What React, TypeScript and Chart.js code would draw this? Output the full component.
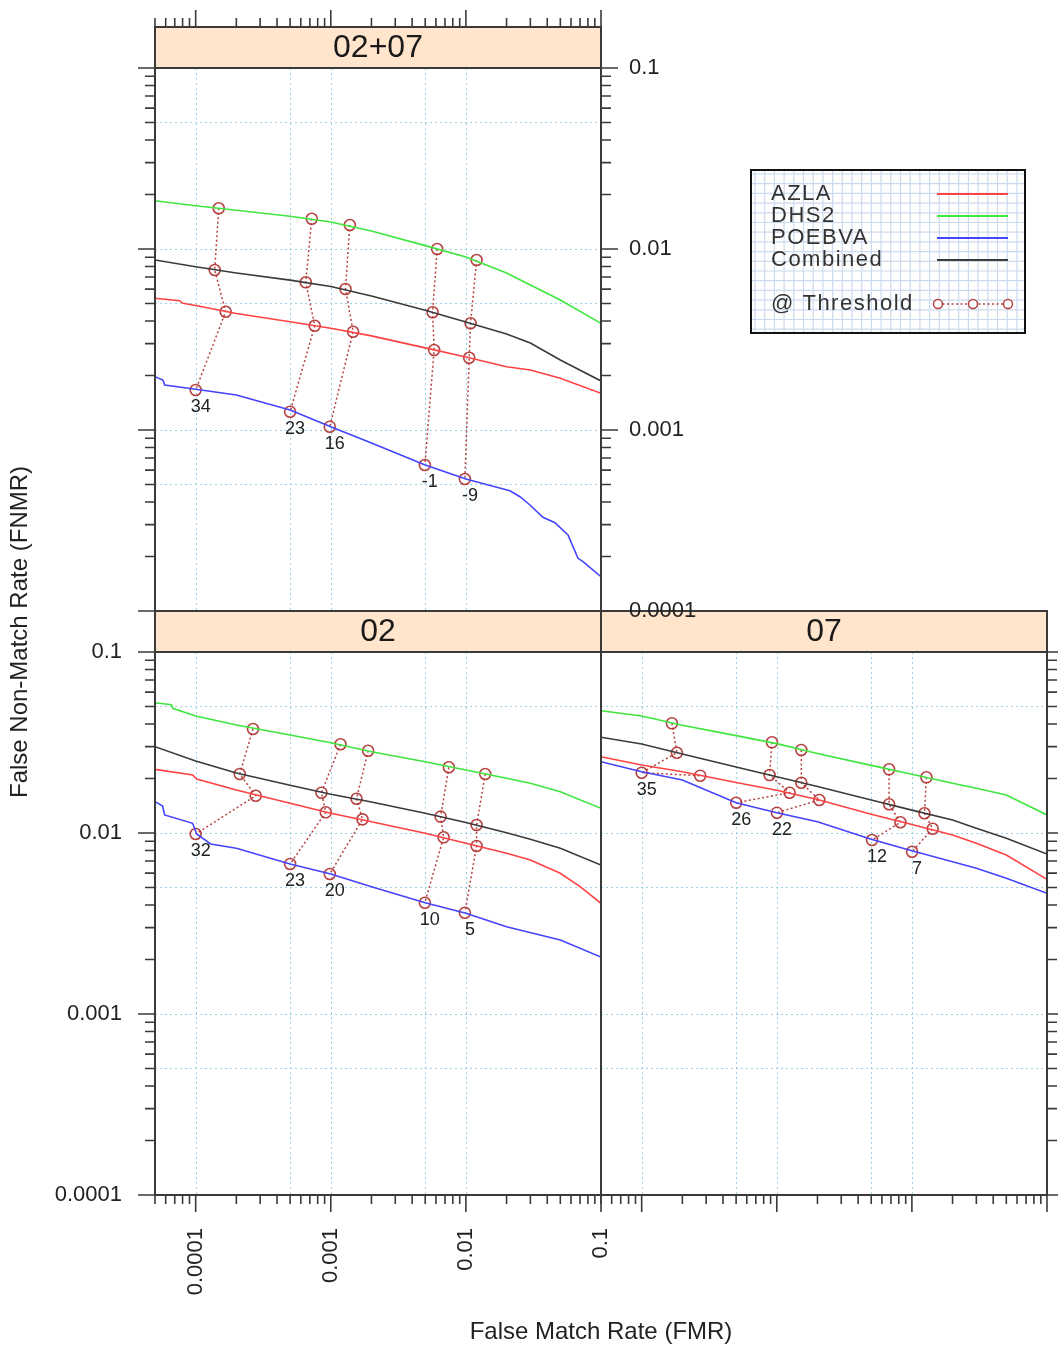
import React, { useEffect, useRef } from "react";
import { Chart, registerables } from "chart.js";

Chart.register(...registerables);

const PAGE_W = 1058;
const PAGE_H = 1348;
const FONT = '"Liberation Sans", Arial, Helvetica, sans-serif';

// ---------- axes / labels ----------
const fmrMin = 5e-5;
const fmrMax = 0.1;
const fnmrMin = 1e-4;
const fnmrMax = 0.1;
const decadeTicks = [1e-4, 1e-3, 1e-2, 1e-1];
const decadeLabels = ["0.0001", "0.001", "0.01", "0.1"];
const fmrGridLines = [1e-4, 5e-4, 1e-3, 5e-3, 1e-2];
const fnmrGridLines = [5e-2, 1e-2, 5e-3, 1e-3, 5e-4];
const xTitle = "False Match Rate (FMR)";
const yTitle = "False Non-Match Rate (FNMR)";
const seriesNames = ["AZLA", "DHS2", "POEBVA", "Combined"];
const seriesColors = ["#ff4242", "#3ee63e", "#4444ff", "#3a3a3a"];
const thresholdName = "@ Threshold";
const thresholdColor = "rgba(175,45,45,0.9)";

type Pt = [number, number];

// common FMR sample points
const fmrGrid = [5e-5, 1e-4, 2e-4, 5e-4, 1e-3, 2e-3, 5e-3, 1e-2, 2e-2, 3e-2, 5e-2, 1e-1];

// ---------- panel "02+07" ----------
const p1Title = "02+07";
const p1AzlaX = [5e-5, 7.61e-5, 8.05e-5, 1e-4, 2e-4, 5e-4, 1e-3, 2e-3, 5e-3, 1e-2, 2e-2, 3e-2, 5e-2, 1e-1];
const p1AzlaY = [0.005342, 0.005182, 0.005012, 0.004873, 0.004406, 0.003961, 0.003651, 0.003311, 0.002842, 0.002531, 0.002237, 0.002145, 0.00193, 0.001595];
const p1Dhs2Y = [0.01849, 0.01735, 0.01636, 0.01518, 0.01411, 0.01258, 0.01044, 0.009033, 0.007368, 0.006327, 0.005228, 0.003886];
const p1PoebvaX = [5e-5, 5.72e-5, 5.89e-5, 1e-4, 2e-4, 5e-4, 1e-3, 2e-3, 5e-3, 1e-2, 0.0127, 0.02118, 0.02512, 0.02979, 0.03718, 0.04563, 0.05696, 0.06757, 0.07356, 0.1];
const p1PoebvaY = [0.00197, 0.001889, 0.001773, 0.001679, 0.001561, 0.00129, 0.001043, 0.0008479, 0.0006405, 0.0005363, 0.0005116, 0.000462, 0.0004281, 0.0003852, 0.0003293, 0.0003074, 0.000263, 0.0001955, 0.0001873, 0.0001547];
const p1CombinedY = [0.008694, 0.007973, 0.007368, 0.006733, 0.006207, 0.005499, 0.004591, 0.003951, 0.003391, 0.003025, 0.002436, 0.001865];
const p1ThrLabels = ["34", "23", "16", "-1", "-9"];
const p1ThrAzla: Pt[] = [[1.668e-4, 0.004503], [7.61e-4, 0.003769], [1.463e-3, 0.003492], [5.82e-3, 0.002767], [1.058e-2, 0.002508]];
const p1ThrDhs2: Pt[] = [[1.481e-4, 0.01679], [7.23e-4, 0.0147], [1.383e-3, 0.01357], [6.13e-3, 0.01], [1.2e-2, 0.008694]];
const p1ThrPoebva: Pt[] = [[1e-4, 0.001663], [5e-4, 0.001262], [9.83e-4, 0.001043], [4.97e-3, 0.0006405], [9.83e-3, 0.0005363]];
const p1ThrCombined: Pt[] = [[1.383e-4, 0.007656], [6.53e-4, 0.006546], [1.285e-3, 0.006012], [5.67e-3, 0.00447], [1.083e-2, 0.003886]];

// ---------- panel "02" ----------
const p2Title = "02";
const p2AzlaX = [5e-5, 9.5e-5, 1.017e-4, 2e-4, 5e-4, 1e-3, 2e-3, 5e-3, 1e-2, 2e-2, 3e-2, 5e-2, 7e-2, 1e-1];
const p2AzlaY = [0.02248, 0.02091, 0.01988, 0.0173, 0.01459, 0.01285, 0.01155, 0.009962, 0.008772, 0.007722, 0.007094, 0.005989, 0.00505, 0.004089];
const p2Dhs2X = [5e-5, 6.61e-5, 6.76e-5, 1e-4, 2e-4, 5e-4, 1e-3, 2e-3, 5e-3, 1e-2, 2e-2, 3e-2, 5e-2, 1e-1];
const p2Dhs2Y = [0.05247, 0.05116, 0.04887, 0.0443, 0.03951, 0.03478, 0.03154, 0.02812, 0.02476, 0.02229, 0.02005, 0.01882, 0.01691, 0.01369];
const p2PoebvaX = [5e-5, 5.69e-5, 5.89e-5, 9.5e-5, 1.017e-4, 1.291e-4, 2e-4, 5e-4, 1e-3, 2e-3, 5e-3, 1e-2, 2e-2, 5e-2, 1e-1];
const p2PoebvaY = [0.01489, 0.0141, 0.01258, 0.01131, 0.009874, 0.008694, 0.008231, 0.006741, 0.005937, 0.00505, 0.00412, 0.0036, 0.003036, 0.002563, 0.002065];
const p2CombinedY = [0.02998, 0.02498, 0.02145, 0.01834, 0.01636, 0.01483, 0.01285, 0.01143, 0.01004, 0.009231, 0.008231, 0.006654];
const p2ThrLabels = ["32", "23", "20", "10", "5"];
const p2ThrAzla: Pt[] = [[2.782e-4, 0.01607], [9.18e-4, 0.01301], [1.717e-3, 0.0119], [6.84e-3, 0.009467], [1.2e-2, 0.008479]];
const p2ThrDhs2: Pt[] = [[2.657e-4, 0.03756], [1.18e-3, 0.03091], [1.889e-3, 0.02849], [7.48e-3, 0.02307], [1.39e-2, 0.02118]];
const p2ThrPoebva: Pt[] = [[1e-4, 0.009874], [5e-4, 0.006741], [9.83e-4, 0.005937], [4.97e-3, 0.00412], [9.83e-3, 0.003628]];
const p2ThrCombined: Pt[] = [[2.118e-4, 0.02118], [8.53e-4, 0.0167], [1.551e-3, 0.01547], [6.5e-3, 0.01231], [1.2e-2, 0.01107]];

// ---------- panel "07" ----------
const p3Title = "07";
const p3AzlaY = [0.0264, 0.02375, 0.02182, 0.01901, 0.01724, 0.01532, 0.01269, 0.01113, 0.00975, 0.008772, 0.007558, 0.005548];
const p3Dhs2Y = [0.04739, 0.0443, 0.03936, 0.03452, 0.03118, 0.02749, 0.02363, 0.02113, 0.01882, 0.01766, 0.01622, 0.01258];
const p3PoebvaY = [0.02476, 0.02182, 0.01963, 0.0147, 0.01295, 0.01155, 0.009231, 0.007982, 0.00694, 0.006383, 0.005618, 0.004643];
const p3CombinedY = [0.03379, 0.03102, 0.02732, 0.02316, 0.02046, 0.01805, 0.01522, 0.01338, 0.0118, 0.01062, 0.009348, 0.007656];
const p3ThrLabels = ["35", "26", "22", "12", "7"];
const p3ThrAzla: Pt[] = [[2.712e-4, 0.02073], [1.244e-3, 0.0167], [2.064e-3, 0.01522], [8.22e-3, 0.01146], [1.426e-2, 0.01056]];
const p3ThrDhs2: Pt[] = [[1.674e-4, 0.04037], [9.21e-4, 0.0317], [1.519e-3, 0.02875], [6.78e-3, 0.02248], [1.281e-2, 0.02031]];
const p3ThrPoebva: Pt[] = [[1e-4, 0.02153], [5.01e-4, 0.0147], [1.003e-3, 0.01295], [5.07e-3, 0.009149], [1.003e-2, 0.007881]];
const p3ThrCombined: Pt[] = [[1.823e-4, 0.02777], [8.84e-4, 0.02091], [1.519e-3, 0.01896], [6.78e-3, 0.01441], [1.238e-2, 0.01285]];

// ---------- layout ----------
interface Rect { left: number; top: number; right: number; bottom: number; }
interface PanelSpec {
  title: string;
  rect: Rect;
  curves: { x: number[]; y: number[] }[];
  thr: Pt[][];
  thrLabels: string[];
  xSide: "top" | "bottom";
  xLabels: boolean;
  yLeft: boolean;
  yLeftLabels: boolean;
  yRight: boolean;
  yRightLabels: boolean;
  overlay: boolean;
  z: number;
}

const STRIP_H = 41;

const panels: PanelSpec[] = [
  {
    title: p1Title,
    rect: { left: 155, top: 68, right: 601, bottom: 611 },
    curves: [
      { x: p1AzlaX, y: p1AzlaY },
      { x: fmrGrid, y: p1Dhs2Y },
      { x: p1PoebvaX, y: p1PoebvaY },
      { x: fmrGrid, y: p1CombinedY },
    ],
    thr: [p1ThrAzla, p1ThrDhs2, p1ThrPoebva, p1ThrCombined],
    thrLabels: p1ThrLabels,
    xSide: "top",
    xLabels: false,
    yLeft: true,
    yLeftLabels: false,
    yRight: true,
    yRightLabels: true,
    overlay: true,
    z: 3,
  },
  {
    title: p2Title,
    rect: { left: 155, top: 652, right: 601, bottom: 1195 },
    curves: [
      { x: p2AzlaX, y: p2AzlaY },
      { x: p2Dhs2X, y: p2Dhs2Y },
      { x: p2PoebvaX, y: p2PoebvaY },
      { x: fmrGrid, y: p2CombinedY },
    ],
    thr: [p2ThrAzla, p2ThrDhs2, p2ThrPoebva, p2ThrCombined],
    thrLabels: p2ThrLabels,
    xSide: "bottom",
    xLabels: true,
    yLeft: true,
    yLeftLabels: true,
    yRight: false,
    yRightLabels: false,
    overlay: false,
    z: 1,
  },
  {
    title: p3Title,
    rect: { left: 601, top: 652, right: 1047, bottom: 1195 },
    curves: [
      { x: fmrGrid, y: p3AzlaY },
      { x: fmrGrid, y: p3Dhs2Y },
      { x: fmrGrid, y: p3PoebvaY },
      { x: fmrGrid, y: p3CombinedY },
    ],
    thr: [p3ThrAzla, p3ThrDhs2, p3ThrPoebva, p3ThrCombined],
    thrLabels: p3ThrLabels,
    xSide: "bottom",
    xLabels: false,
    yLeft: false,
    yLeftLabels: false,
    yRight: true,
    yRightLabels: false,
    overlay: false,
    z: 2,
  },
];

function minorValues(min: number, max: number): number[] {
  const out: number[] = [];
  for (let e = -6; e <= 0; e++) {
    for (let m = 2; m <= 9; m++) {
      const v = m * Math.pow(10, e);
      if (v >= min * 0.999 && v <= max * 1.001) out.push(v);
    }
  }
  return out;
}

function buildDatasets(spec: PanelSpec): any[] {
  const ds: any[] = [];
  spec.curves.forEach((c, i) => {
    ds.push({
      label: seriesNames[i],
      data: c.x.map((x, k) => ({ x, y: c.y[k] })),
      borderColor: seriesColors[i],
      borderWidth: 1.6,
      pointRadius: 0,
      tension: 0,
      fill: false,
    });
  });
  spec.thrLabels.forEach((lab, t) => {
    const pts = spec.thr.map((arr) => ({ x: arr[t][0], y: arr[t][1] }));
    pts.sort((a, b) => b.y - a.y);
    ds.push({
      label: "thr " + lab,
      data: pts,
      borderColor: thresholdColor,
      borderWidth: 1.5,
      borderDash: [2, 2.5],
      pointRadius: 5.5,
      pointBorderWidth: 1.6,
      pointBorderColor: thresholdColor,
      pointBackgroundColor: "rgba(0,0,0,0)",
      pointStyle: "circle",
      tension: 0,
      fill: false,
    });
  });
  return ds;
}

function drawOverlay(ctx: CanvasRenderingContext2D) {
  // legend box
  const bx = 751, by = 170, bw = 274, bh = 163;
  ctx.save();
  ctx.fillStyle = "#ffffff";
  ctx.fillRect(bx, by, bw, bh);
  ctx.strokeStyle = "rgba(195,212,235,0.85)";
  ctx.lineWidth = 1.2;
  ctx.beginPath();
  for (let gx = bx + 4; gx < bx + bw; gx += 9.7) {
    ctx.moveTo(gx, by + 1);
    ctx.lineTo(gx, by + bh - 1);
  }
  for (let gy = by + 4; gy < by + bh; gy += 9.7) {
    ctx.moveTo(bx + 1, gy);
    ctx.lineTo(bx + bw - 1, gy);
  }
  ctx.stroke();
  ctx.strokeStyle = "#111";
  ctx.lineWidth = 2;
  ctx.strokeRect(bx, by, bw, bh);

  ctx.font = `22px ${FONT}`;
  (ctx as any).letterSpacing = "1.5px";
  ctx.fillStyle = "#333";
  ctx.textAlign = "left";
  ctx.textBaseline = "middle";
  const rows = [194, 216, 238, 260];
  seriesNames.forEach((n, i) => {
    ctx.fillText(n, 771, rows[i]);
    ctx.strokeStyle = seriesColors[i];
    ctx.lineWidth = 2;
    ctx.beginPath();
    ctx.moveTo(937, rows[i]);
    ctx.lineTo(1008, rows[i]);
    ctx.stroke();
  });
  const ty = 304;
  ctx.fillStyle = "#333";
  ctx.fillText(thresholdName, 771, ty);
  (ctx as any).letterSpacing = "0px";
  ctx.strokeStyle = thresholdColor;
  ctx.lineWidth = 1.5;
  ctx.setLineDash([2, 2.5]);
  ctx.beginPath();
  ctx.moveTo(938, ty);
  ctx.lineTo(1008, ty);
  ctx.stroke();
  ctx.setLineDash([]);
  [938, 973, 1008].forEach((cx) => {
    ctx.fillStyle = "#fff";
    ctx.beginPath();
    ctx.arc(cx, ty, 4.5, 0, Math.PI * 2);
    ctx.fill();
    ctx.stroke();
  });

  // axis titles
  ctx.fillStyle = "#222";
  ctx.font = `24px ${FONT}`;
  ctx.textAlign = "center";
  ctx.textBaseline = "middle";
  ctx.fillText(xTitle, 601, 1332);
  ctx.save();
  ctx.translate(20, 632);
  ctx.rotate(-Math.PI / 2);
  ctx.fillText(yTitle, 0, 0);
  ctx.restore();
  ctx.restore();
}

function makePlugin(spec: PanelSpec) {
  return {
    id: "latticeDeco",
    beforeDatasetsDraw(chart: any) {
      const { ctx, chartArea: a, scales } = chart;
      const xs = scales.x, ys = scales.y;
      ctx.save();
      ctx.strokeStyle = "rgba(140,200,225,0.85)";
      ctx.lineWidth = 1;
      ctx.setLineDash([2, 3]);
      ctx.beginPath();
      fmrGridLines.forEach((v) => {
        const px = Math.round(xs.getPixelForValue(v)) + 0.5;
        ctx.moveTo(px, a.top);
        ctx.lineTo(px, a.bottom);
      });
      fnmrGridLines.forEach((v) => {
        const py = Math.round(ys.getPixelForValue(v)) + 0.5;
        ctx.moveTo(a.left, py);
        ctx.lineTo(a.right, py);
      });
      ctx.stroke();
      ctx.restore();
    },
    afterDatasetsDraw(chart: any) {
      const { ctx, chartArea: a, scales } = chart;
      const xs = scales.x, ys = scales.y;
      ctx.save();
      // threshold labels (under POEBVA point)
      ctx.fillStyle = "#222";
      ctx.font = `18px ${FONT}`;
      ctx.textAlign = "center";
      ctx.textBaseline = "middle";
      const blue = spec.thr[2];
      spec.thrLabels.forEach((lab, t) => {
        const px = xs.getPixelForValue(blue[t][0]);
        const py = ys.getPixelForValue(blue[t][1]);
        ctx.fillText(lab, px + 5, py + 17);
      });

      // panel border
      ctx.strokeStyle = "#3a3a3a";
      ctx.lineWidth = 2;
      ctx.strokeRect(a.left, a.top, a.right - a.left, a.bottom - a.top);

      // strip
      const sTop = a.top - STRIP_H;
      ctx.fillStyle = "#ffe5cc";
      ctx.fillRect(a.left, sTop, a.right - a.left, STRIP_H);
      ctx.strokeRect(a.left, sTop, a.right - a.left, STRIP_H);
      ctx.fillStyle = "#1a1a1a";
      ctx.font = `32px ${FONT}`;
      ctx.textAlign = "center";
      ctx.textBaseline = "middle";
      ctx.fillText(spec.title, (a.left + a.right) / 2, sTop + STRIP_H / 2 + 1);

      // ticks
      ctx.strokeStyle = "#3a3a3a";
      ctx.lineWidth = 1.6;
      const MAJ = 17, MIN = 9;
      const xMinor = minorValues(fmrMin, fmrMax);
      const yMinor = minorValues(fnmrMin, fnmrMax);
      const xBase = spec.xSide === "top" ? sTop : a.bottom;
      const xDir = spec.xSide === "top" ? -1 : 1;
      ctx.beginPath();
      ctx.moveTo(a.left, xBase);
      ctx.lineTo(a.right, xBase);
      xMinor.forEach((v) => {
        const px = xs.getPixelForValue(v);
        ctx.moveTo(px, xBase);
        ctx.lineTo(px, xBase + xDir * MIN);
      });
      decadeTicks.forEach((v) => {
        const px = xs.getPixelForValue(v);
        ctx.moveTo(px, xBase);
        ctx.lineTo(px, xBase + xDir * MAJ);
      });
      const ySides: { x: number; dir: number }[] = [];
      if (spec.yLeft) ySides.push({ x: a.left, dir: -1 });
      if (spec.yRight) ySides.push({ x: a.right, dir: 1 });
      ySides.forEach((s) => {
        yMinor.forEach((v) => {
          const py = ys.getPixelForValue(v);
          ctx.moveTo(s.x, py);
          ctx.lineTo(s.x + s.dir * (MIN + 1), py);
        });
        decadeTicks.forEach((v) => {
          const py = ys.getPixelForValue(v);
          ctx.moveTo(s.x, py);
          ctx.lineTo(s.x + s.dir * MAJ, py);
        });
      });
      ctx.stroke();

      // tick labels
      ctx.fillStyle = "#222";
      ctx.font = `22px ${FONT}`;
      if (spec.xLabels) {
        decadeTicks.forEach((v, i) => {
          const px = xs.getPixelForValue(v);
          ctx.save();
          ctx.translate(px, a.bottom + 33);
          ctx.rotate(-Math.PI / 2);
          ctx.textAlign = "right";
          ctx.textBaseline = "middle";
          ctx.fillText(decadeLabels[i], 0, 0);
          ctx.restore();
        });
      }
      ctx.textBaseline = "middle";
      if (spec.yLeftLabels) {
        ctx.textAlign = "right";
        decadeTicks.forEach((v, i) => {
          ctx.fillText(decadeLabels[i], a.left - 33, ys.getPixelForValue(v));
        });
      }
      if (spec.yRightLabels) {
        ctx.textAlign = "left";
        decadeTicks.forEach((v, i) => {
          ctx.fillText(decadeLabels[i], a.right + 28, ys.getPixelForValue(v));
        });
      }
      ctx.restore();
      if (spec.overlay) drawOverlay(ctx);
    },
  };
}

function Panel({ spec }: { spec: PanelSpec }) {
  const ref = useRef<HTMLCanvasElement | null>(null);
  useEffect(() => {
    if (!ref.current) return;
    const r = spec.rect;
    const chart = new Chart(ref.current, {
      type: "line",
      data: { datasets: buildDatasets(spec) },
      options: {
        responsive: false,
        animation: false,
        events: [],
        devicePixelRatio: 1,
        layout: {
          padding: { left: r.left, top: r.top, right: PAGE_W - r.right, bottom: PAGE_H - r.bottom },
        },
        plugins: { legend: { display: false }, tooltip: { enabled: false }, title: { display: false } },
        scales: {
          x: { type: "logarithmic", min: fmrMin, max: fmrMax, display: false },
          y: { type: "logarithmic", min: fnmrMin, max: fnmrMax, display: false },
        },
      } as any,
      plugins: [makePlugin(spec)],
    });
    return () => chart.destroy();
  }, [spec]);
  return (
    <canvas
      ref={ref}
      width={PAGE_W}
      height={PAGE_H}
      style={{ position: "absolute", left: 0, top: 0, width: PAGE_W, height: PAGE_H, zIndex: spec.z }}
    />
  );
}

export default function App() {
  return (
    <div style={{ position: "absolute", left: 0, top: 0, width: PAGE_W, height: PAGE_H, background: "#fff", overflow: "hidden" }}>
      {panels.map((p) => (
        <Panel key={p.title} spec={p} />
      ))}
    </div>
  );
}
